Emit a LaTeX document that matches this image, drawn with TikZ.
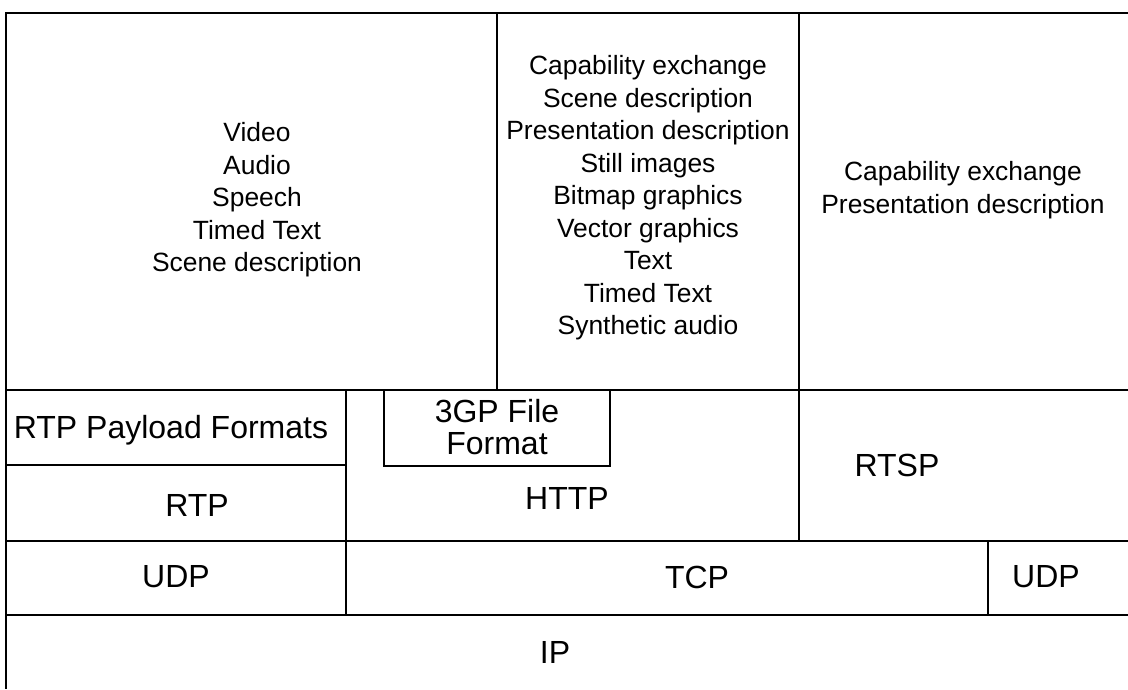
\documentclass[tikz,border=0pt]{standalone}
\usepackage{fontspec}
\setmainfont{Liberation Sans}
\begin{document}
\begin{tikzpicture}[x=1pt,y=-1pt,
  ln/.style={line width=1.6pt,black},
  small/.style={align=center,inner sep=0pt,font=\fontsize{26.4}{32.5}\selectfont},
  big/.style={align=center,inner sep=0pt,font=\fontsize{32}{32}\selectfont}]
\useasboundingbox (0,0) rectangle (1128,689);
% outer frame (open at right and bottom)
\draw[ln] (1128,13) -- (6,13) -- (6,689);
% horizontal layer lines
\draw[ln] (6,390) -- (1128,390);
\draw[ln] (6,541) -- (1128,541);
\draw[ln] (6,615) -- (1128,615);
\draw[ln] (6,465) -- (346,465);
% vertical lines
\draw[ln] (497,13) -- (497,390);
\draw[ln] (799,13) -- (799,541);
\draw[ln] (346,390) -- (346,615);
\draw[ln] (988,541) -- (988,615);
% 3GP box
\draw[ln] (384,390) rectangle (610,466);
% texts
\node[small] (media) at (257,200) {Video\\Audio\\Speech\\Timed Text\\Scene description};
\node[small] (mid) at (648,198) {Capability exchange\\Scene description\\Presentation description\\Still images\\Bitmap graphics\\Vector graphics\\Text\\Timed Text\\Synthetic audio};
\node[small] (right) at (963,190) {Capability exchange\\Presentation description};
\node[big] (rtppf) at (171,430) {RTP Payload Formats};
\node[big] (rtp) at (197,505) {RTP};
\node[big] (gp) at (497,427) {3GP File\\Format};
\node[big] (http) at (567,498) {HTTP};
\node[big] (rtsp) at (897,465) {RTSP};
\node[big] (udp1) at (176,577) {UDP};
\node[big] (tcp) at (697,577) {TCP};
\node[big] (udp2) at (1046,577) {UDP};
\node[big] (ip) at (555,652) {IP};
\end{tikzpicture}
\end{document}
